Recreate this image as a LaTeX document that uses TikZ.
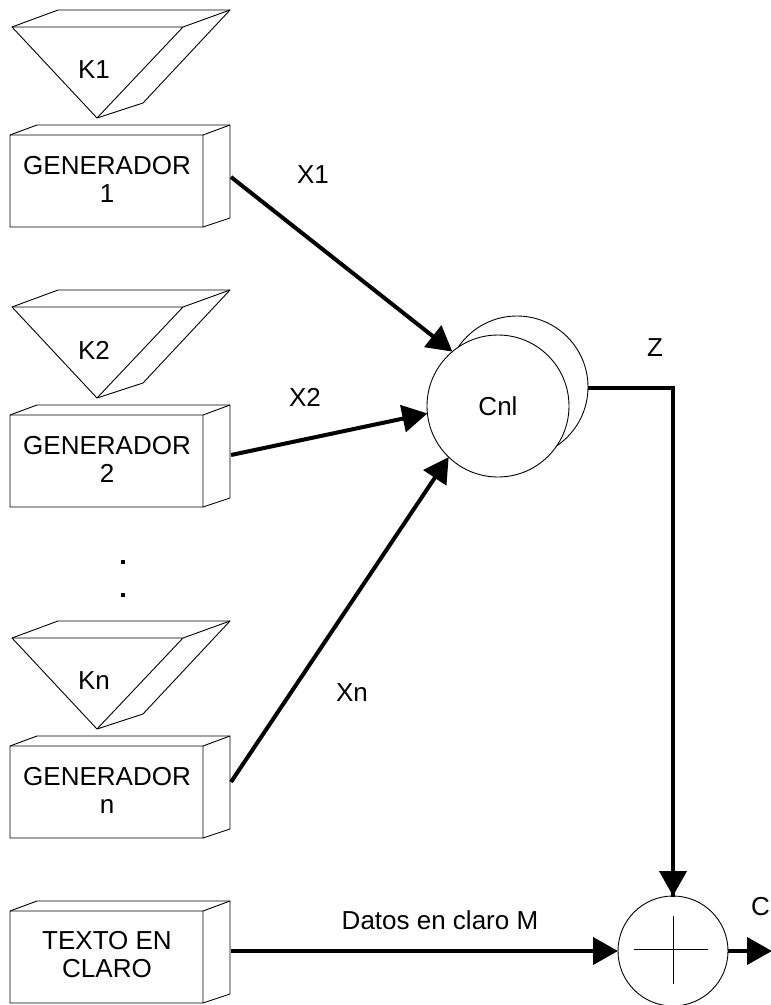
\documentclass[tikz,border=0pt]{standalone}
\usepackage{fontspec}
\setmainfont{Liberation Sans}
\usetikzlibrary{arrows.meta}
\begin{document}
\begin{tikzpicture}[x=1pt,y=-1pt,
  thinline/.style={line width=0.9pt},
  conn/.style={line width=4pt,-{Triangle[length=25pt,width=27pt]}},
  plainconn/.style={line width=4pt},
  lbl/.style={font=\fontsize{26}{28}\selectfont,inner sep=0pt,align=center},
  funnel/.pic={
    \draw[thinline,fill=white,line join=round] (12,27) -- (58,10) -- (230,10) -- (143,103) -- (97,118) -- cycle;
    \draw[thinline,line join=round] (12,27) -- (183,27) -- (230,10) (183,27) -- (97,118);
  },
  box3d/.pic={
    \draw[thinline,fill=white,line join=round] (10,135) -- (37,125) -- (230,125) -- (230,218) -- (203,227) -- (10,227) -- cycle;
    \draw[thinline,line join=round] (10,135) -- (203,135) -- (230,125) (203,135) -- (203,227);
  }]
\useasboundingbox (0,0) rectangle (771,1005);

% key funnels and generator boxes
\pic at (0,0) {funnel};
\pic at (0,0) {box3d};
\pic at (0,280) {funnel};
\pic at (0,280) {box3d};
\pic at (0,611) {funnel};
\pic at (0,611) {box3d};
\pic at (0,776) {box3d};

\node[lbl] (k1) at (94,70) {K1};
\node[lbl] (k2) at (94,350) {K2};
\node[lbl] (kn) at (94,681) {Kn};

\node[lbl] (g1) at (107,179) {GENERADOR\\1};
\node[lbl] (g2) at (107,459) {GENERADOR\\2};
\node[lbl] (gn) at (107,790) {GENERADOR\\n};
\node[lbl] (tc) at (107,955) {TEXTO EN\\CLARO};

\fill (121,560) rectangle (125,564);
\fill (121,593) rectangle (125,597);

\coordinate (g1out) at (231,177);
\coordinate (g2out) at (231,455);
\coordinate (gnout) at (231,782);
\coordinate (tcout) at (231,951);

% combining function
\draw[thinline] (517,387) circle (71);
\node[circle,draw,thinline,fill=white,minimum size=142pt,inner sep=0pt,outer sep=0pt,lbl] (cnl) at (498,406) {Cnl};
\coordinate (cnlout) at (588,388);
\coordinate (zc) at (673,388);

% adder
\node[circle,draw,thinline,fill=white,minimum size=110pt,inner sep=0pt,outer sep=0pt] (add) at (673,951) {};
\draw[thinline] (634,949) -- (708,949) (673,916) -- (673,984);
\coordinate (cout) at (772,951);

% connectors
\begin{scope}
\clip (0,0) rectangle (771,1005);
\draw[conn] (g1out) -- (cnl.130);
\draw[conn] (g2out) -- (cnl.186);
\draw[conn] (gnout) -- (cnl.226);
\draw[plainconn,line join=miter] (cnlout) -- (zc) -- ([yshift=-1pt]zc |- add.north);
\draw[conn] (zc) -- (add.north);
\draw[conn] (tcout) -- (add.west);
\draw[conn] (add.east) -- (cout);
\end{scope}

% labels
\node[lbl] (x1) at (313,175) {X1};
\node[lbl] (x2) at (305,397) {X2};
\node[lbl] (xn) at (352,693) {Xn};
\node[lbl] (z) at (655,348) {Z};
\node[lbl] (datos) at (440,920) {Datos en claro M};
\node[lbl,anchor=east] (c) at (770,907) {C};
\end{tikzpicture}
\end{document}
